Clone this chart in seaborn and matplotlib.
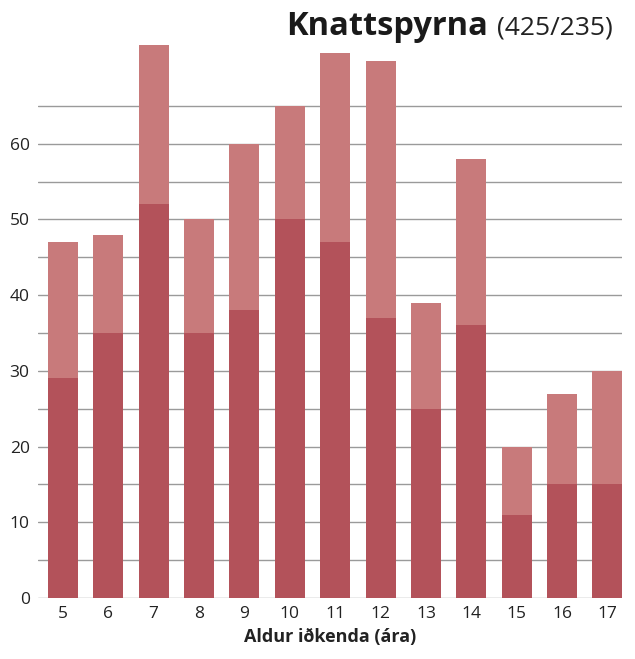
import pandas as pd
import matplotlib.pyplot as plt
import seaborn as sns

# Gögn: fjöldi iðkenda eftir aldri (neðri hluti / efri hluti)
aldur = ['5', '6', '7', '8', '9', '10', '11', '12', '13', '14', '15', '16', '17']
nedri = [29, 35, 52, 35, 38, 50, 47, 37, 25, 36, 11, 15, 15]
samtals = [47, 48, 73, 50, 60, 65, 72, 71, 39, 58, 20, 27, 30]
y_ticks = [0, 10, 20, 30, 40, 50, 60]
grid_lines = [0, 5, 10, 15, 20, 25, 30, 35, 40, 45, 50, 55, 60, 65]

data = pd.DataFrame({'aldur': aldur, 'nedri': nedri, 'samtals': samtals})

sns.set_style("white")
plt.rcParams['font.family'] = ['Open Sans', 'DejaVu Sans']

fig = plt.figure(figsize=(6.35, 6.59), dpi=100)
ax = fig.add_axes([0.0598, 0.0926, 0.9197, 0.85])

for g in grid_lines:
    ax.axhline(g, color='#9a9a9a', linewidth=1.0, zorder=0)

sns.barplot(x='aldur', y='samtals', data=data, color='#c87a7b', width=0.66,
            saturation=1, linewidth=0, ax=ax, zorder=2)
sns.barplot(x='aldur', y='nedri', data=data, color='#b3525a', width=0.66,
            saturation=1, linewidth=0, ax=ax, zorder=3)

ax.set_xlim(-0.55, 12.32)
ax.set_ylim(0, 74)
ax.set_yticks(y_ticks)
ax.tick_params(axis='both', length=0, labelsize=12.5, colors='#222222')
ax.tick_params(axis='y', pad=6)
ax.tick_params(axis='x', pad=6)
for s in ax.spines.values():
    s.set_visible(False)

ax.set_ylabel('')
ax.set_xlabel('Aldur iðkenda (ára)', fontsize=13, fontweight='bold',
              color='#222222', labelpad=4)

fig.text(0.768, 0.947, 'Knattspyrna', fontsize=23.5, fontweight='bold',
         ha='right', va='baseline', color='#1a1a1a')
fig.text(0.965, 0.947, '(425/235)', fontsize=19, ha='right', va='baseline',
         color='#222222')

plt.savefig('out.png', dpi=100)
